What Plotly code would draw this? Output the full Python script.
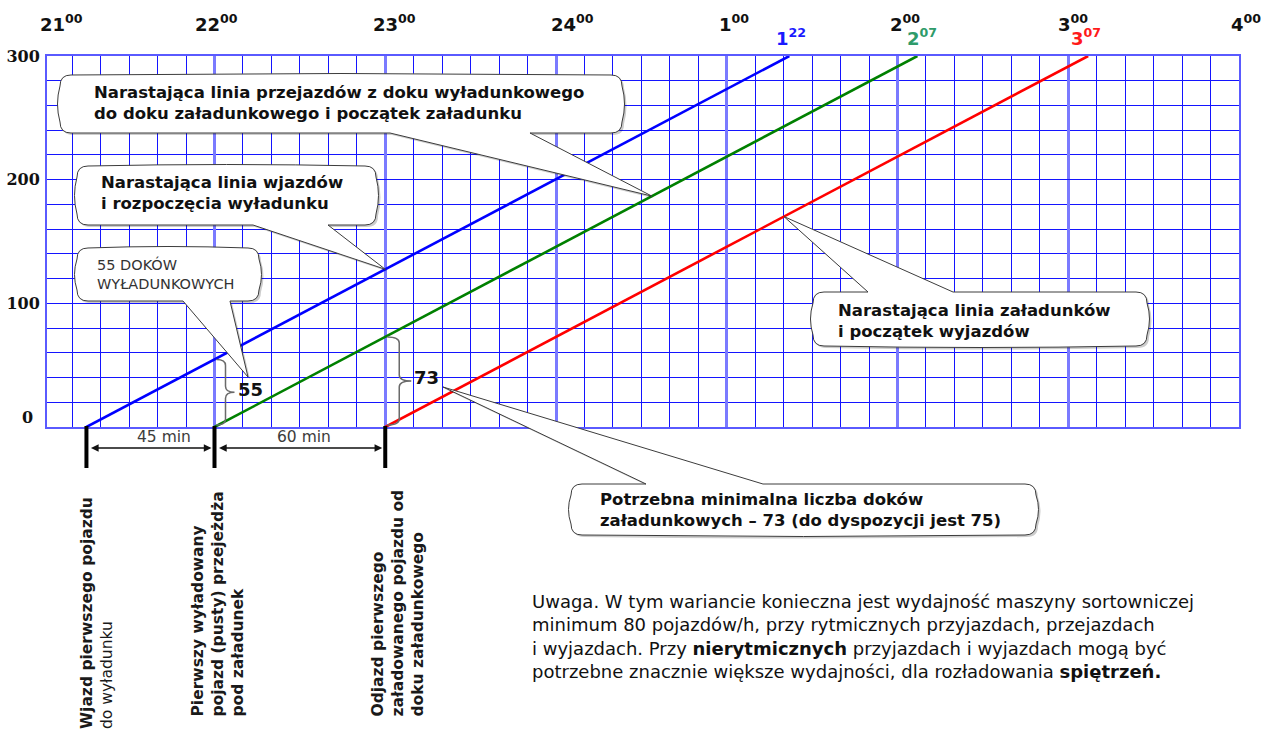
import plotly.graph_objects as go

# ---------------- data ----------------
series_names = ["Narastająca linia wjazdów", "Narastająca linia przejazdów", "Narastająca linia załadunków"]
start_times = ["21:15", "22:00", "23:00"]
end_times = ["01:22", "02:07", "03:07"]
start_counts = [0, 0, 0]
end_counts = [300, 300, 300]
hour_labels = ["21", "22", "23", "24", "1", "2", "3", "4"]
y_ticks = [0, 100, 200, 300]

# ---------------- styles ----------------
line_colors = ["#0000ff", "#008000", "#ff0000"]
end_label_colors = ["#1a1aff", "#2e9b6a", "#ff1a1a"]
FONT = "DejaVu Sans"

# plot area in pixels
L, R, T, B = 47, 1239, 56, 427
W, H = R - L, B - T
XMAX = 420.0
XMIN = XMAX - (R - L) / (683.0 / 240.0)


def to_min(s):
    h, m = map(int, s.split(":"))
    if h < 21:
        h += 24
    return (h - 21) * 60 + m


def px_x(t):
    return L + (t - XMIN) * W / (XMAX - XMIN)


def px_y(v):
    return B - v * H / 300.0


def xp(px):
    return (px - L) / W


def yp(py):
    return (B - py) / H


def P(x, y):
    return f"{xp(x):.5f},{yp(y):.5f}"


def line_value(i, t):
    t0, t1 = to_min(start_times[i]), to_min(end_times[i])
    return start_counts[i] + (t - t0) * (end_counts[i] - start_counts[i]) / (t1 - t0)


def bubble_path(x0, y0, x1, y1, edge, b0, b1, tip, dx=0, dy=0, r=11, bx=5, by=3):
    x0 += dx; x1 += dx; y0 += dy; y1 += dy
    b0 += dx; b1 += dx
    tx, ty = tip[0] + dx, tip[1] + dy
    mx, my = (x0 + x1) / 2, (y0 + y1) / 2
    p = f"M {P(x0 + r, y0)} "
    if edge == "top":
        p += f"L {P(b0, y0)} L {P(tx, ty)} L {P(b1, y0)} L {P(x1 - r, y0)} "
    else:
        p += f"Q {P(mx, y0 - by)} {P(x1 - r, y0)} "
    p += f"Q {P(x1, y0)} {P(x1, y0 + r)} "
    p += f"Q {P(x1 + bx, my)} {P(x1, y1 - r)} "
    p += f"Q {P(x1, y1)} {P(x1 - r, y1)} "
    if edge == "bottom":
        p += f"L {P(b1, y1)} L {P(tx, ty)} L {P(b0, y1)} L {P(x0 + r, y1)} "
    else:
        p += f"Q {P(mx, y1 + by)} {P(x0 + r, y1)} "
    p += f"Q {P(x0, y1)} {P(x0, y1 - r)} "
    p += f"Q {P(x0 - bx, my)} {P(x0, y0 + r)} "
    p += f"Q {P(x0, y0)} {P(x0 + r, y0)} Z"
    return p


fig = go.Figure()

# ---------------- lines ----------------
for i in range(3):
    fig.add_trace(go.Scatter(
        x=[to_min(start_times[i]), to_min(end_times[i])],
        y=[start_counts[i], end_counts[i]],
        mode="lines", name=series_names[i],
        line=dict(color=line_colors[i], width=2.6),
        hoverinfo="skip", showlegend=False,
    ))

annotations = []
shapes = []

# end labels
for i in range(3):
    h, m = end_times[i].split(":")
    annotations.append(dict(
        x=to_min(end_times[i]), y=end_counts[i], xref="x", yref="y",
        text=f"<b>{int(h)}<sup>{m}</sup></b>", showarrow=False,
        xanchor="center", yanchor="bottom", yshift=5, xshift=[2, 5, -2][i],
        font=dict(family=FONT, size=18, color=end_label_colors[i]),
    ))

# top hour labels
hour_shift = [18, 2, 9, 16, 7, 7, 5, 7]
for k, lab in enumerate(hour_labels):
    annotations.append(dict(
        x=xp(px_x(k * 60) + hour_shift[k]), y=yp(23), xref="paper", yref="paper",
        text=f"<b>{lab}<sup>00</sup></b>", showarrow=False,
        xanchor="center", yanchor="middle",
        font=dict(family=FONT, size=18, color="#111111"),
    ))

# y "0" label (sits above the axis in the reference)
annotations.append(dict(
    x=xp(27), y=y_ticks[0], xref="paper", yref="y", text=f"<b>{y_ticks[0]}</b>",
    showarrow=False, xanchor="center", yanchor="middle", yshift=10,
    font=dict(family="DejaVu Serif", size=16, color="#111111"),
))

# ---------------- callouts ----------------
t_c1 = 213.7
t_c2 = to_min("23:00")
t_c4 = 260.1
tip1 = (px_x(t_c1), px_y(line_value(1, t_c1)))
tip2 = (px_x(t_c2), px_y(line_value(0, t_c2)))
tip4 = (px_x(t_c4), px_y(line_value(2, t_c4)))

callouts = [
    dict(box=(60, 75, 622, 133), edge="bottom", base=(390, 530), tip=tip1,
         text="Narastająca linia przejazdów z doku wyładunkowego<br>do doku załadunkowego i początek załadunku",
         tx=92, ty=103, bold=True, size=16.5),
    dict(box=(77, 166, 376, 225), edge="bottom", base=(253, 328), tip=tip2,
         text="Narastająca linia wjazdów<br>i rozpoczęcia wyładunku",
         tx=99, ty=193, bold=True, size=16.5),
    dict(box=(77, 248, 259, 301), edge="bottom", base=(183, 230), tip=(248, 377),
         text="55 DOKÓW<br>WYŁADUNKOWYCH",
         tx=95, ty=274, bold=False, size=14.5),
    dict(box=(813, 292, 1147, 346), edge="top", base=(868, 953), tip=tip4,
         text="Narastająca linia załadunków<br>i początek wyjazdów",
         tx=836, ty=321, bold=True, size=16.5),
    dict(box=(571, 484, 1036, 535), edge="top", base=(646, 763), tip=(443, 387),
         text="Potrzebna minimalna liczba doków<br>załadunkowych – 73 (do dyspozycji jest 75)",
         tx=598, ty=510, bold=True, size=16.5),
]

for c in callouts:
    x0, y0, x1, y1 = c["box"]
    shapes.append(dict(type="path", xref="paper", yref="paper", layer="above",
                       path=bubble_path(x0, y0, x1, y1, c["edge"], c["base"][0], c["base"][1], c["tip"], dx=2, dy=2),
                       fillcolor="rgba(0,0,0,0.2)", line=dict(width=0)))
    shapes.append(dict(type="path", xref="paper", yref="paper", layer="above",
                       path=bubble_path(x0, y0, x1, y1, c["edge"], c["base"][0], c["base"][1], c["tip"]),
                       fillcolor="white", line=dict(color="#3c3c3c", width=1)))
    if c["bold"]:
        txt = "<br>".join(f"<b>{s}</b>" for s in c["text"].split("<br>"))
    else:
        txt = c["text"]
    annotations.append(dict(
        x=xp(c["tx"]), y=yp(c["ty"]), xref="paper", yref="paper",
        text=txt, showarrow=False, xanchor="left", yanchor="middle", align="left",
        font=dict(family=FONT, size=c["size"], color="#111111" if c["bold"] else "#333333"),
    ))

# ---------------- braces ----------------
def brace(t, v, width):
    xa = px_x(t) + 2
    ytop, ybot = px_y(v), px_y(0) - 2
    ym = (ytop + ybot) / 2
    q = 6
    xb = xa + width * 0.5
    xc = xa + width
    return (f"M {P(xa, ytop)} Q {P(xb, ytop)} {P(xb, ytop + q)} L {P(xb, ym - q)} "
            f"Q {P(xb, ym)} {P(xc, ym)} Q {P(xb, ym)} {P(xb, ym + q)} "
            f"L {P(xb, ybot - q)} Q {P(xb, ybot)} {P(xa, ybot)}")


for i, width in [(0, 18), (1, 24)]:
    t = to_min(start_times[i + 1])
    v = line_value(i, t)
    shapes.append(dict(type="path", xref="paper", yref="paper", layer="above",
                       path=brace(t, v, width), line=dict(color="#6a6a6a", width=1.5)))
    annotations.append(dict(
        x=t, y=v / 2, xref="x", yref="y", text=f"<b>{round(v)}</b>", showarrow=False,
        xanchor="left", yanchor="middle", xshift=width + 3, yshift=4,
        font=dict(family=FONT, size=18, color="#111111"),
    ))

# ---------------- bottom markers ----------------
for s in start_times:
    shapes.append(dict(type="line", xref="x", yref="paper", x0=to_min(s), x1=to_min(s),
                       y0=yp(426), y1=yp(468), line=dict(color="black", width=4)))

span_shift = [14, 4]
for k in range(2):
    a, b = to_min(start_times[k]), to_min(start_times[k + 1])
    annotations.append(dict(
        x=b, y=yp(448), xref="x", yref="paper", ax=a, ay=0, axref="x", ayref="pixel",
        text="", showarrow=True, arrowhead=2, arrowside="end+start", arrowsize=1.1,
        arrowwidth=1.4, arrowcolor="#111111", standoff=3, startstandoff=3,
    ))
    annotations.append(dict(
        x=(a + b) / 2, y=yp(437), xref="x", yref="paper", text=f"{b - a} min",
        showarrow=False, xanchor="center", yanchor="middle", xshift=span_shift[k],
        font=dict(family=FONT, size=15.5, color="#3c3c3c"),
    ))

# rotated labels
rot_labels = [
    ("<b>Wjazd pierwszego pojazdu</b><br>do wyładunku", 76, 731),
    ("<b>Pierwszy wyładowany</b><br><b>pojazd (pusty) przejeżdża</b><br><b>pod załadunek</b>", 186, 719),
    ("<b>Odjazd pierwszego</b><br><b>załadowanego pojazdu od</b><br><b>doku załadunkowego</b>", 366, 719),
]
for txt, lx, by in rot_labels:
    annotations.append(dict(
        x=xp(lx), y=yp(by), xref="paper", yref="paper", text=txt, showarrow=False,
        textangle=-90, xanchor="left", yanchor="bottom", align="left",
        font=dict(family=FONT, size=15.5, color="#1a1a1a"),
    ))

# note
note = ("Uwaga. W tym wariancie konieczna jest wydajność maszyny sortowniczej<br>"
        "minimum 80 pojazdów/h, przy rytmicznych przyjazdach, przejazdach<br>"
        "i wyjazdach. Przy <b>nierytmicznych</b> przyjazdach i wyjazdach mogą być<br>"
        "potrzebne znacznie większe wydajności, dla rozładowania <b>spiętrzeń.</b>")
annotations.append(dict(
    x=xp(530), y=yp(636), xref="paper", yref="paper", text=note, showarrow=False,
    xanchor="left", yanchor="middle", align="left",
    font=dict(family=FONT, size=18, color="#111111"),
))

ticktext = [f"<b>{v}</b>" for v in y_ticks]
ticktext[0] = ""

fig.update_layout(
    width=1261, height=729,
    margin=dict(l=L, r=1261 - R, t=T, b=729 - B, pad=0, autoexpand=False),
    paper_bgcolor="white", plot_bgcolor="white",
    showlegend=False,
    annotations=annotations, shapes=shapes,
    xaxis=dict(range=[XMIN, XMAX], tick0=0, dtick=60, showticklabels=False, ticks="",
               automargin=False,
               showgrid=True, gridcolor="#7a7aff", gridwidth=3,
               minor=dict(tick0=0, dtick=10, showgrid=True, gridcolor="#1414ff", gridwidth=1.3),
               zeroline=False, showline=True, mirror=True, linecolor="#5a5aff", linewidth=2),
    yaxis=dict(range=[0, 300], tickmode="array", tickvals=y_ticks, ticktext=ticktext,
               ticks="", ticklen=0, ticklabelstandoff=2, automargin=False,
               tickfont=dict(family="DejaVu Serif", size=16, color="#111111"),
               showgrid=True, gridcolor="#1414ff", gridwidth=1.3,
               minor=dict(dtick=20, tick0=0, showgrid=True, gridcolor="#1414ff", gridwidth=1.3),
               zeroline=False, showline=True, mirror=True, linecolor="#5a5aff", linewidth=2),
)

fig.write_html("out.html", config={"displayModeBar": False},
               post_script="document.body.style.margin='0';document.body.style.overflow='hidden';")
